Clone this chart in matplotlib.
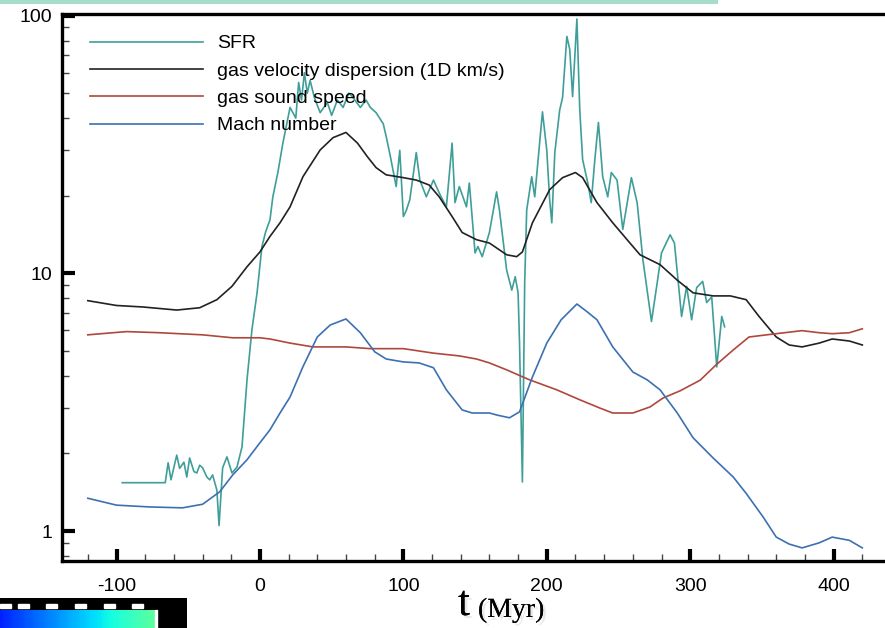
import numpy as np
import matplotlib
matplotlib.use("Agg")
import matplotlib.pyplot as plt
import matplotlib.patheffects as pe
from matplotlib.ticker import FixedLocator, NullFormatter, FuncFormatter
from matplotlib.patches import Rectangle

plt.rcParams['font.family'] = ['Liberation Sans', 'DejaVu Sans']

# star formation rate (noisy curve)
sfr_t = [-96, -66, -64, -62, -58, -56, -53, -51, -49, -46, -44, -42, -40, -37, -35, -33,
         -30, -28.5, -26, -23, -19.5, -16, -12.5, -9, -5.6, -2, 1.4, 4, 7, 9, 12.5, 16,
         21, 25, 27, 29, 31, 33, 35, 38, 42, 47, 50, 54, 58, 62, 65, 70, 74, 77, 81, 86,
         88, 91, 95, 97.5, 100, 102, 104.5, 109, 111.5, 116, 121, 125, 130, 134, 136, 139,
         144, 146, 150, 152, 155, 160, 165, 167, 172, 175.6, 178, 180, 181, 183, 184.6, 186,
         189.5, 191.6, 195, 197, 200, 202, 203.5, 205.6, 209, 211, 214, 216, 218, 221, 223,
         225, 228.6, 231, 233.5, 236, 239, 242.5, 245, 249, 253, 259, 263, 267, 273, 277,
         280, 286, 289, 294, 297.5, 301, 304.5, 308.7, 311.5, 315, 318.5, 322, 324]
sfr_v = [1.54, 1.54, 1.84, 1.58, 1.97, 1.75, 1.85, 1.62, 1.92, 1.7, 1.68, 1.8, 1.76, 1.62, 1.58, 1.65,
         1.44, 1.05, 1.76, 1.94, 1.68, 1.77, 2.12, 3.86, 6.03, 8.4, 12.7, 14.5, 16.1, 19.8, 24.6, 32,
         44, 40, 55, 47, 60, 50, 56, 48, 42, 46, 41, 47, 44, 50, 48, 44, 47, 44, 42, 38,
         34, 28.3, 21.7, 30, 16.6, 17.5, 19.3, 29.4, 23, 19.8, 23, 20.5, 18.1, 32, 18.8, 21.7,
         18.1, 22.4, 12.0, 12.7, 11.6, 14.4, 20.7, 17.6, 10.3, 8.6, 9.7, 8.4, 5.36, 1.55, 9.2, 17.6,
         23.7, 19.8, 32, 42.3, 30, 19.3, 15.7, 29.4, 43, 48, 83, 74, 48.5, 97, 43,
         27.6, 22.4, 18.8, 27.6, 38.5, 23.7, 19.8, 24.6, 23, 14.8, 23.5, 18.8, 11.3, 6.5, 9.2,
         12.0, 14.1, 13.1, 6.8, 8.9, 6.6, 8.8, 9.3, 7.7, 8.1, 4.33, 6.8, 6.2]

# gas velocity dispersion (1D km/s)
sig_t = [-120, -100, -81.5, -58, -42, -30, -19.5, -9, 0, 7, 14, 21, 30, 42, 51, 60, 68, 75,
         81, 88, 100, 109, 118, 125, 134, 141, 151, 160, 172, 179, 183, 190, 202, 211, 220,
         225, 235, 246, 258, 265, 279, 291, 302, 316, 328, 339, 348, 360, 369, 378, 390,
         399, 411, 420]
sig_v = [7.83, 7.5, 7.4, 7.2, 7.35, 7.9, 8.9, 10.6, 12.1, 13.9, 15.7, 18.1, 23.7, 30.1, 33.6, 35.2, 32, 28.3,
         25.7, 24.1, 23.5, 23, 22, 19.8, 16.6, 14.4, 13.5, 13.1, 11.8, 11.6, 12.1, 15.7, 21.1, 23.5, 24.6,
         23.5, 18.8, 15.7, 13.1, 11.8, 10.8, 9.4, 8.4, 8.17, 8.17, 7.9, 6.8, 5.66, 5.27, 5.18, 5.36,
         5.56, 5.46, 5.27]

# gas sound speed
cs_t = [-120, -93, -70, -40, -19, 0, 7, 21, 37, 60, 77, 100, 121, 139, 151, 160, 172, 188,
        207, 223, 237, 246, 260, 272, 281, 293, 307, 318, 330, 341, 360, 378, 390, 399, 411, 420]
cs_v = [5.77, 5.94, 5.88, 5.77, 5.62, 5.62, 5.56, 5.36, 5.18, 5.18, 5.1, 5.1, 4.9, 4.78, 4.65, 4.49, 4.22, 3.86,
        3.53, 3.23, 3.0, 2.87, 2.87, 3.03, 3.28, 3.5, 3.85, 4.41, 5.04, 5.66, 5.83, 5.99, 5.88, 5.83, 5.88, 6.09]

# Mach number
mach_t = [-120, -100, -77, -54, -40, -28, -19, -9, 0, 7, 14, 21, 30, 40, 49, 60, 70, 80, 88,
          100, 111, 121, 130, 141, 148, 160, 165, 174, 181, 190, 200, 210, 221, 228, 235, 246,
          260, 270, 279, 291, 302, 316, 330, 339, 351, 360, 369, 378, 390, 399, 411, 420]
mach_v = [1.34, 1.26, 1.24, 1.23, 1.27, 1.42, 1.65, 1.89, 2.2, 2.47, 2.87, 3.31, 4.34, 5.66, 6.3, 6.65, 5.88, 4.96, 4.65,
          4.53, 4.49, 4.3, 3.53, 2.95, 2.87, 2.87, 2.82, 2.75, 2.9, 3.96, 5.36, 6.6, 7.6, 7.1, 6.6, 5.18,
          4.14, 3.86, 3.53, 2.87, 2.3, 1.92, 1.62, 1.40, 1.13, 0.947, 0.89, 0.86, 0.9, 0.947, 0.92, 0.86]

labels = ['SFR', 'gas velocity dispersion (1D km/s)', 'gas sound speed', 'Mach number']
colors = ['#3f9e99', '#222222', '#b0473c', '#3d70b2']

fig = plt.figure(figsize=(8.85, 6.28), dpi=100)
ax = fig.add_axes([62 / 885, 1 - 561 / 628, (891 - 62) / 885, (561 - 14) / 628])

ax.plot(sfr_t, sfr_v, color=colors[0], lw=1.2, label=labels[0])
ax.plot(sig_t, sig_v, color=colors[1], lw=1.2, label=labels[1])
ax.plot(cs_t, cs_v, color=colors[2], lw=1.2, label=labels[2])
ax.plot(mach_t, mach_v, color=colors[3], lw=1.2, label=labels[3])

ax.set_yscale('log')
ax.set_xlim(-138, 440)
ax.set_ylim(0.765, 101.4)

ax.xaxis.set_major_locator(FixedLocator([-100, 0, 100, 200, 300, 400]))
ax.xaxis.set_minor_locator(FixedLocator(np.arange(-120, 441, 20)))
ax.xaxis.set_major_formatter(FuncFormatter(lambda v, p: '%d' % v))
ax.yaxis.set_major_locator(FixedLocator([1, 10, 100]))
ax.yaxis.set_minor_locator(FixedLocator([0.8, 0.9, 2, 3, 4, 5, 6, 7, 8, 9,
                                         20, 30, 40, 50, 60, 70, 80, 90]))
ax.yaxis.set_major_formatter(FuncFormatter(lambda v, p: '%d' % v))
ax.yaxis.set_minor_formatter(NullFormatter())

ax.tick_params(which='major', direction='in', length=9, width=3, labelsize=14)
ax.tick_params(axis='x', which='major', pad=12)
ax.tick_params(axis='y', which='major', pad=7)
ax.tick_params(which='minor', direction='in', length=5, width=1, color='#444444')
for s in ax.spines.values():
    s.set_linewidth(2.4)

ax.legend(loc='upper left', bbox_to_anchor=(0.034, 0.962), frameon=False, fontsize=14,
          borderpad=0, borderaxespad=0, handlelength=5.8, handletextpad=0.72, labelspacing=0.5)

shadow = [pe.withSimplePatchShadow(offset=(2, -2), shadow_rgbFace='#999999', alpha=0.2), pe.Normal()]
fig.text(458 / 885, 1 - 615 / 628, 't', family=['Liberation Serif', 'DejaVu Serif'], fontsize=31,
         va='baseline', ha='left', path_effects=shadow)
fig.text(478 / 885, 1 - 617 / 628, '(Myr)', family=['Liberation Serif', 'DejaVu Serif'], fontsize=20,
         va='baseline', ha='left', path_effects=shadow)

# top decorative strip
fig.patches.append(Rectangle((0, 1 - 4 / 628), 718 / 885, 4 / 628, transform=fig.transFigure,
                             facecolor='#a6dcca', edgecolor='none'))

# colorbar fragment at the bottom left
cax = fig.add_axes([0, 0, 187 / 885, 30 / 628])
cax.set_xlim(0, 187)
cax.set_ylim(0, 30)
cax.add_patch(Rectangle((0, 0), 187, 30, color='black', zorder=0))
grad = np.linspace(0.16, 0.46, 64).reshape(1, -1)
cax.imshow(grad, cmap='jet', vmin=0, vmax=1, aspect='auto', extent=(0, 155, 0, 18), zorder=1)
cax.add_patch(Rectangle((155, 0), 2, 18, color='white', zorder=2))
for xd in [0, 18, 46, 75, 104, 132]:
    cax.add_patch(Rectangle((xd, 20), 11, 4, color='white', zorder=2))
cax.axis('off')

fig.savefig('out.png', dpi=100)
